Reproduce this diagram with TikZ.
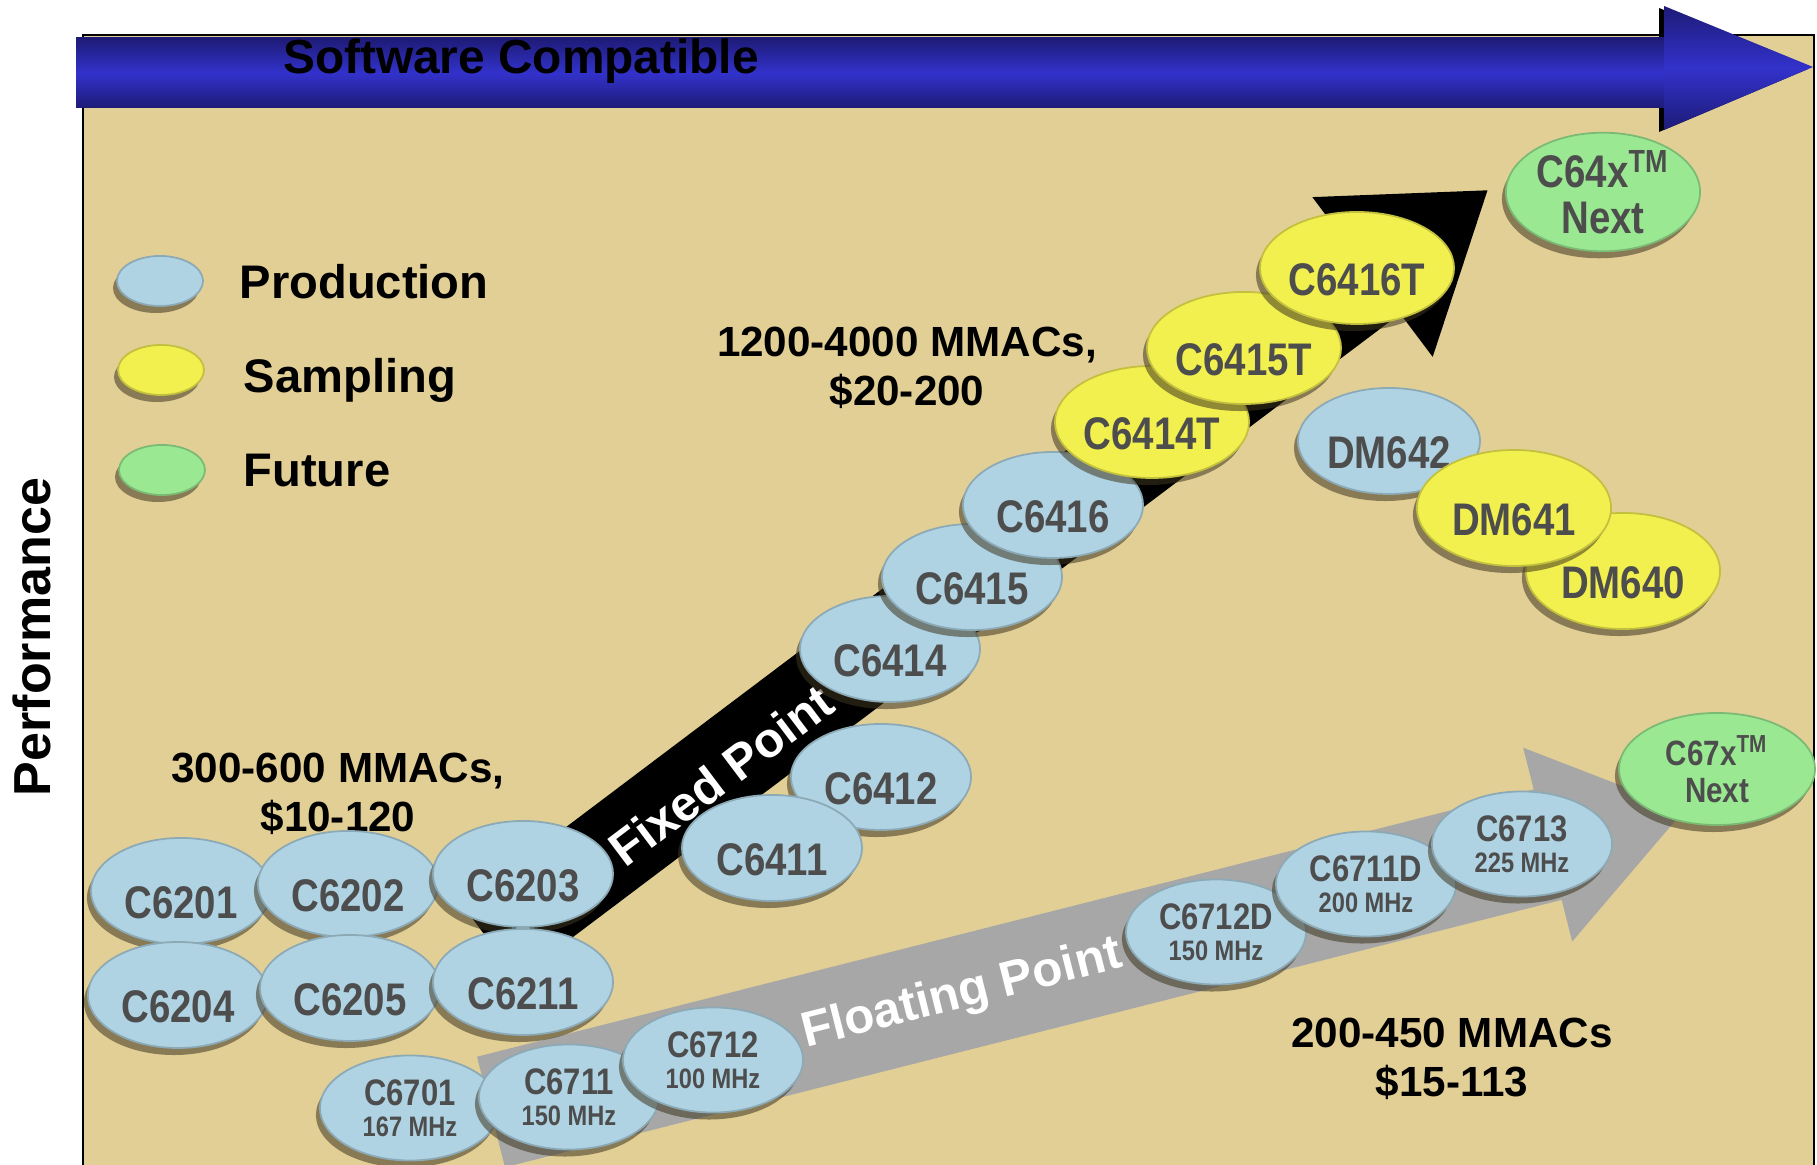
\documentclass[tikz,border=0pt]{standalone}
\usepackage{fontspec}
\setmainfont{Liberation Sans}
\newfontfamily\chipfont{Liberation Sans}[FakeStretch=0.84]
\usepackage{tikz}
\usetikzlibrary{shapes.geometric}
\usetikzlibrary{shadows}

\definecolor{tanbg}{HTML}{E2CF95}
\definecolor{prodblue}{HTML}{AFD3E3}
\definecolor{sampyellow}{HTML}{F2F04E}
\definecolor{futgreen}{HTML}{9AE992}
\definecolor{chiptext}{HTML}{4D4D4D}
\definecolor{navyblue}{HTML}{1E1B76}
\definecolor{barblue}{HTML}{3232CC}
\definecolor{floatgray}{HTML}{A7A7A7}
\definecolor{shadowbrown}{HTML}{3F3520}

\begin{document}
\begin{tikzpicture}[x=0.01cm,y=0.01cm,
  chip/.style={ellipse,inner sep=0pt,fill=#1,draw=#1!80!black,line width=0.5pt,text=chiptext,
    drop shadow={shadow xshift=-0.04cm,shadow yshift=-0.07cm,fill=shadowbrown,opacity=0.55}},
  bigchip/.style={chip=#1,minimum width=1.8cm,minimum height=1.06cm,text height=0.55cm,
    font=\chipfont\bfseries\fontsize{13}{13}\selectfont},
  tchip/.style={bigchip=#1,minimum width=1.94cm,minimum height=1.12cm},
  mhzchip/.style={chip=prodblue,align=center,minimum width=1.8cm,minimum height=1.05cm,
    font=\chipfont\bfseries\fontsize{10.5}{8.8}\selectfont},
  legendchip/.style={chip=#1,minimum width=0.86cm,minimum height=0.5cm},
  legendtext/.style={anchor=base west,inner sep=0pt,font=\bfseries\fontsize{13.4}{14}\selectfont},
  rangetext/.style={align=center,font=\bfseries\fontsize{12}{13.8}\selectfont},
  bandtext/.style={text=white,font=\bfseries\fontsize{14}{14}\selectfont}]
\useasboundingbox (0,0) rectangle (1817,-1165);
\fill[white] (0,0) rectangle (1817,-1165);
% background panel
 \fill[tanbg] (83,-35) rectangle (1814,-1165);
 \draw[black,line width=0.8pt] (83,-1165)--(83,-35)--(1814,-35)--(1814,-1165);
% software compatible arrow
 \fill[black] (1659,-8)--(1808,-69)--(1659,-132)--cycle;
 \shade[top color=navyblue,bottom color=navyblue,middle color=barblue] (76,-38) rectangle (1664,-108);
 \shade[top color=navyblue,bottom color=navyblue,middle color=barblue] (1664,-6)--(1813,-67)--(1664,-130)--cycle;
 \node[font=\bfseries\fontsize{13.6}{14}\selectfont] (swc) at (521,-61) {Software Compatible};
% performance axis
 \node[rotate=90,font=\bfseries\fontsize{14.8}{15}\selectfont] (perf) at (32,-637) {Performance};
% legend
 \node[legendchip=prodblue] (lgprod) at (160,-281) {};
 \node[legendchip=sampyellow] (lgsamp) at (161,-370) {};
 \node[legendchip=futgreen] (lgfut) at (162,-470) {};
 \node[legendtext] (txprod) at (239,-299) {Production};
 \node[legendtext] (txsamp) at (243,-393) {Sampling};
 \node[legendtext] (txfut) at (243,-487) {Future};
% fixed point arrow
\begin{scope}[shift={(490,-942)},rotate=37]
 \fill[black] (0,-46)--(1105,-46)--(1105,-100)--(1249,0)--(1105,100)--(1105,46)--(0,46)--cycle;
\end{scope}
 \node[bandtext,rotate=37] (fixpt) at (721,-775) {Fixed Point};
% floating point arrow
\begin{scope}[shift={(491,-1112)},rotate=14.2]
 \fill[floatgray] (0,-57)--(1090,-57)--(1090,-100)--(1231,0)--(1090,100)--(1090,57)--(0,57)--cycle;
\end{scope}
 \node[bandtext,rotate=14.2] (flopt) at (962,-995) {Floating Point};
% range labels
 \node[rangetext] (rng62) at (338,-794) {300-600 MMACs,\\\$10-120};
 \node[rangetext] (rng64) at (907,-368) {1200-4000 MMACs,\\\$20-200};
 \node[rangetext] (rng67) at (1452,-1059) {200-450 MMACs\\\$15-113};
% C62x
 \node[bigchip=prodblue] (c6201) at (181,-891) {C6201};
 \node[bigchip=prodblue] (c6202) at (348,-884) {C6202};
 \node[bigchip=prodblue] (c6203) at (523,-874) {C6203};
 \node[bigchip=prodblue] (c6204) at (178,-995) {C6204};
 \node[bigchip=prodblue] (c6205) at (350,-988) {C6205};
 \node[bigchip=prodblue] (c6211) at (523,-982) {C6211};
% C64x
 \node[bigchip=prodblue] (c6412) at (881,-777) {C6412};
 \node[bigchip=prodblue] (c6411) at (772,-848) {C6411};
 \node[bigchip=prodblue] (c6414) at (890,-649) {C6414};
 \node[bigchip=prodblue] (c6415) at (972,-577) {C6415};
 \node[bigchip=prodblue] (c6416) at (1053,-505) {C6416};
 \node[tchip=sampyellow] (c6414t) at (1152,-422) {C6414T};
 \node[tchip=sampyellow] (c6415t) at (1244,-348) {C6415T};
 \node[tchip=sampyellow] (c6416t) at (1357,-268) {C6416T};
 \node[chip=futgreen,minimum width=1.94cm,minimum height=1.12cm,align=center,
   font=\chipfont\bfseries\fontsize{13}{13.1}\selectfont] (c64x) at (1603,-192) {C64x\textsuperscript{TM}\\Next};
% DM64x
 \node[bigchip=prodblue,minimum width=1.82cm] (dm642) at (1389,-441) {DM642};
 \node[tchip=sampyellow,minimum height=1.16cm] (dm640) at (1623,-571) {DM640};
 \node[tchip=sampyellow,minimum height=1.16cm] (dm641) at (1514,-508) {DM641};
% C67x
 \node[mhzchip] (c6701) at (410,-1108) {C6701\\{\fontsize{8}{8}\selectfont 167 MHz}};
 \node[mhzchip] (c6711) at (569,-1097) {C6711\\{\fontsize{8}{8}\selectfont 150 MHz}};
 \node[mhzchip] (c6712) at (713,-1060) {C6712\\{\fontsize{8}{8}\selectfont 100 MHz}};
 \node[mhzchip] (c6712d) at (1216,-932) {C6712D\\{\fontsize{8}{8}\selectfont 150 MHz}};
 \node[mhzchip] (c6711d) at (1366,-884) {C6711D\\{\fontsize{8}{8}\selectfont 200 MHz}};
 \node[mhzchip] (c6713) at (1522,-844) {C6713\\{\fontsize{8}{8}\selectfont 225 MHz}};
 \node[chip=futgreen,minimum width=1.96cm,minimum height=1.12cm,align=center,
   font=\chipfont\bfseries\fontsize{10}{10.5}\selectfont] (c67x) at (1717,-769) {C67x\textsuperscript{TM}\\Next};
\end{tikzpicture}
\end{document}
